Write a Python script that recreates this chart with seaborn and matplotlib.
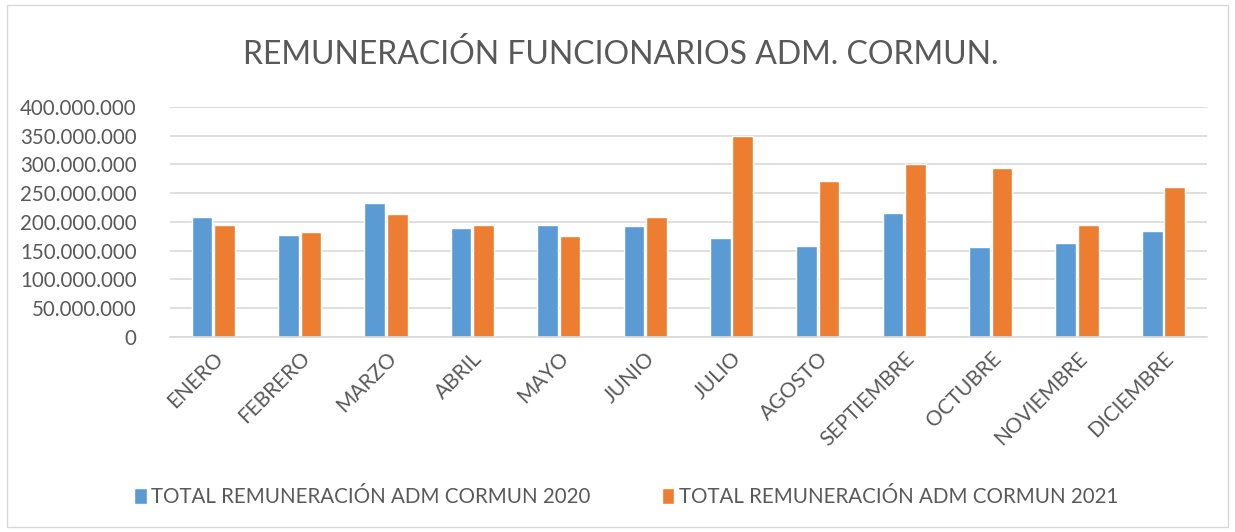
import pandas as pd
import matplotlib.pyplot as plt
import seaborn as sns
from matplotlib.patches import Rectangle
from matplotlib.ticker import FuncFormatter, MultipleLocator

sns.set_theme(style="white")
plt.rcParams['font.family'] = ['Lato', 'DejaVu Sans']

# Data
meses = ['ENERO', 'FEBRERO', 'MARZO', 'ABRIL', 'MAYO', 'JUNIO', 'JULIO',
         'AGOSTO', 'SEPTIEMBRE', 'OCTUBRE', 'NOVIEMBRE', 'DICIEMBRE']
total_2020 = [208e6, 178e6, 233e6, 189e6, 195e6, 192.5e6, 173e6,
              159e6, 216e6, 157e6, 163.5e6, 185e6]
total_2021 = [195e6, 182.5e6, 213e6, 195e6, 176e6, 208e6, 350e6,
              271e6, 300.5e6, 294e6, 194e6, 261.5e6]
series = ['TOTAL REMUNERACIÓN ADM CORMUN 2020', 'TOTAL REMUNERACIÓN ADM CORMUN 2021']

df = pd.DataFrame({
    'mes': meses * 2,
    'valor': total_2020 + total_2021,
    'serie': [series[0]] * len(meses) + [series[1]] * len(meses),
})

grey = '#595959'
fig = plt.figure(figsize=(12.35, 5.32), dpi=100)
ax = fig.add_axes([0.1377, 0.3665, 0.8393, 0.4325])

sns.barplot(data=df, x='mes', y='valor', hue='serie', order=meses,
            palette=['#5B9BD5', '#ED7D31'], saturation=1, width=0.52, gap=0.08,
            ax=ax, legend=True)

ax.set_ylim(0, 400e6)
ax.set_xlim(-0.5, 11.5)
ax.yaxis.set_major_locator(MultipleLocator(50e6))
ax.yaxis.set_major_formatter(FuncFormatter(lambda v, p: f"{int(v):,}".replace(",", ".")))
ax.grid(axis='y', color='#d9d9d9', linewidth=1.2)
ax.set_axisbelow(True)
for s in ['top', 'right', 'left']:
    ax.spines[s].set_visible(False)
ax.spines['bottom'].set_color('#d9d9d9')
ax.spines['bottom'].set_linewidth(1.2)
ax.set_xlabel('')
ax.set_ylabel('')
ax.tick_params(axis='y', labelsize=14.8, labelcolor=grey, length=0, pad=24)
ax.tick_params(axis='x', labelsize=15, labelcolor=grey, length=0, pad=8)
for lbl in ax.get_xticklabels():
    lbl.set_rotation(45)
    lbl.set_ha('right')
    lbl.set_rotation_mode('anchor')

handles, labels = ax.get_legend_handles_labels()
ax.get_legend().remove()
fig.legend(handles, labels, loc='center', bbox_to_anchor=(0.507, 0.066), ncol=2,
           frameon=False, fontsize=14.8, labelcolor=grey, handlelength=0.6,
           handleheight=0.8, handletextpad=0.2, columnspacing=3.5)

fig.text(0.503, 0.897, 'REMUNERACIÓN FUNCIONARIOS ADM. CORMUN.', ha='center',
         va='center', fontsize=23, color=grey)

fig.patches.append(Rectangle((0.006, 0.01), 0.988, 0.98, transform=fig.transFigure,
                             fill=False, edgecolor='#d9d9d9', linewidth=1))

fig.savefig('out.png', dpi=100)
